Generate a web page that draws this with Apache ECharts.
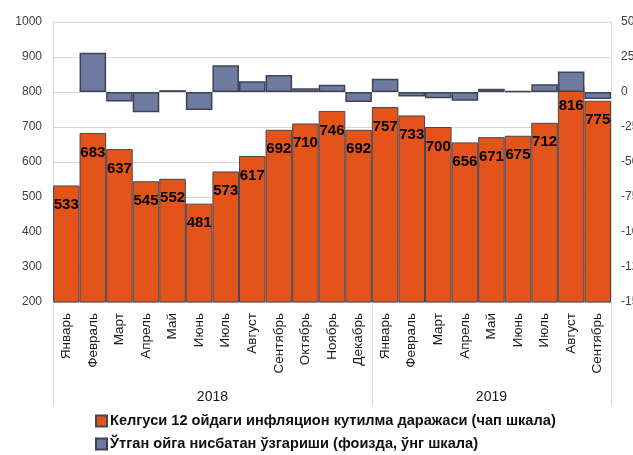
<!DOCTYPE html>
<html>
<head>
<meta charset="utf-8">
<script src="https://cdn.jsdelivr.net/npm/echarts@6/dist/echarts.min.js"></script>
<style>
html,body{margin:0;padding:0;background:#fff;}
#c{width:633px;height:455px;}
</style>
</head>
<body>
<div id="c"></div>
<script>
const months = ['Январь','Февраль','Март','Апрель','Май','Июнь','Июль','Август','Сентябрь','Октябрь','Ноябрь','Декабрь',
                'Январь','Февраль','Март','Апрель','Май','Июнь','Июль','Август','Сентябрь'];
const years = ['2018','2019'];
const yearCenters = [6, 16.5];
const yearBounds = [0, 12, 21];
const expectation = [533,683,637,545,552,481,573,617,692,710,746,692,757,733,700,656,671,675,712,816,775];
const monthlyChange = [null,28.1,-6.7,-14.4,1.3,-12.9,19.1,7.7,12.2,2.6,5.1,-7.2,9.4,-3.2,-4.5,-6.3,2.3,0.6,5.5,14.6,-5.0];
const leftTicks = {min:200, max:1000, interval:100};
const rightTicks = {min:-150, max:50, interval:25};
const seriesNames = ['Келгуси 12 ойдаги инфляцион кутилма даражаси (чап шкала)','Ўтган ойга нисбатан ўзгариши (фоизда, ўнг шкала)'];

const REG = '"Liberation Sans",Arial,sans-serif';
const chart = echarts.init(document.getElementById('c'), null, {renderer:'canvas'});
chart.setOption({
  animation:false,
  backgroundColor:'#fff',
  grid:{left:53,right:22,top:22,bottom:153,containLabel:false,outerBoundsMode:'none'},
  xAxis:[{
    type:'category', data:months, position:'bottom',
    axisLine:{show:true,lineStyle:{color:'#d9d9d9',width:1}},
    axisTick:{show:false},
    axisLabel:{rotate:90,interval:0,margin:11,fontFamily:REG,fontSize:13.5,color:'#1a1a1a'},
    splitLine:{show:false}
  },{
    type:'value', min:0, max:21, position:'bottom',
    axisLine:{show:false},
    axisTick:{show:true,length:103,customValues:yearBounds,lineStyle:{color:'#d9d9d9',width:1}},
    axisLabel:{show:true,margin:88,customValues:yearCenters,
      formatter:function(v){const i=yearCenters.indexOf(v);return i>=0?years[i]:'';},
      fontFamily:REG,fontSize:14,color:'#1a1a1a'},
    splitLine:{show:false}
  }],
  yAxis:[{
    type:'value', min:leftTicks.min, max:leftTicks.max, interval:leftTicks.interval,
    axisLine:{show:true,lineStyle:{color:'#d9d9d9'}},
    axisTick:{show:false},
    axisLabel:{margin:11,fontFamily:REG,fontSize:12,color:'#404040',formatter:function(v){return String(v);}},
    splitLine:{show:true,lineStyle:{color:'#d9d9d9',width:1}}
  },{
    type:'value', min:rightTicks.min, max:rightTicks.max, interval:rightTicks.interval, position:'right',
    axisLine:{show:true,lineStyle:{color:'#d9d9d9'}},
    axisTick:{show:false},
    axisLabel:{margin:10,fontFamily:REG,fontSize:12,color:'#404040',formatter:function(v){return String(v);}},
    splitLine:{show:false}
  }],
  legend:{
    orient:'vertical', left:95, top:413, padding:0, itemGap:7,
    itemWidth:11, itemHeight:11, icon:'rect',
    textStyle:{fontFamily:REG,fontSize:14.6,fontWeight:'bold',color:'#111',lineHeight:16,padding:[0,0,0,-2]},
    data:seriesNames
  },
  series:[{
    name:seriesNames[0], type:'bar', xAxisIndex:0, yAxisIndex:0,
    data:expectation, barWidth:'100%', barGap:'-100%',
    itemStyle:{color:'#E4531A',borderColor:'#454856',borderWidth:1},
    label:{show:true,position:'insideTop',distance:12,fontFamily:REG,fontSize:15,fontWeight:'bold',color:'#000'}
  },{
    name:seriesNames[1], type:'bar', xAxisIndex:0, yAxisIndex:1,
    data:monthlyChange, barWidth:'100%', barGap:'-100%',
    itemStyle:{color:'#6F7AA1',borderColor:'#3F4354',borderWidth:1.5}
  }]
});
</script>
</body>
</html>
